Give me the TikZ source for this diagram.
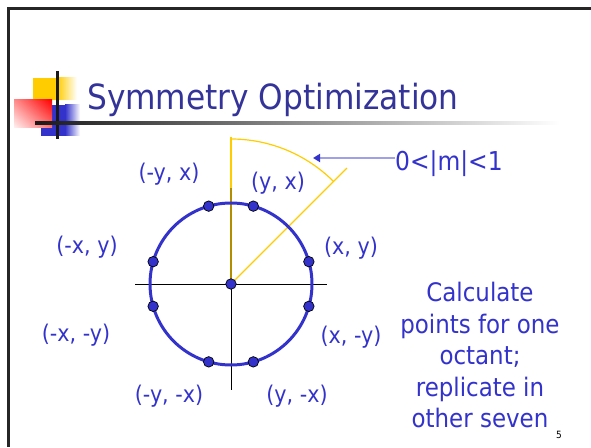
\documentclass[tikz,border=0pt]{standalone}
\usepackage{fontspec}
\setmainfont{DejaVu Sans Condensed}
\usepackage{tikz}
\usetikzlibrary{arrows.meta, positioning, shadings}
\definecolor{ptblue}{RGB}{51,51,204}
\definecolor{pttitle}{RGB}{51,51,153}
\definecolor{ptyellow}{RGB}{255,204,0}
\definecolor{ptgold}{RGB}{180,140,0}
\definecolor{ptarrow}{RGB}{160,160,230}

\begin{document}
\begin{tikzpicture}[x=1pt, y=1pt,
    lbl/.style={text=ptblue, font=\fontsize{23}{27}\selectfont, inner sep=0pt},
    dot/.style={circle, draw=black, line width=0.7pt, fill=ptblue,
                inner sep=0pt, minimum size=10.5pt},
    guide/.style={ptyellow, line width=1.2pt},
]
    \useasboundingbox (0,0) rectangle (591,447);

    % Slide frame
    \draw[line width=3pt, black!85] (591,438.5) -- (8.5,438.5) -- (8.5,0);

    % Title logo
    \fill[ptyellow] (33,347) rectangle (57,369);
    \shade[left color=ptyellow, right color=white] (57,347) rectangle (77,369);
    \fill[ptblue] (41,311) rectangle (65,342);
    \shade[left color=ptblue, right color=white] (65,311) rectangle (80,342);
    \shade[upper right=red, upper left=red!45, lower right=red!55, lower left=red!5]
        (14,319) rectangle (52,347);
    \draw[line width=3pt, black!90] (57,376) -- (57,308);
    \shade[left color=black!90, right color=white] (35,322.5) rectangle (560,325.5);

    \node[anchor=base west, text=pttitle, inner sep=0pt,
          font=\fontsize{34.7}{40}\selectfont] (title) at (87,337) {Symmetry Optimization};

    % Axes and octant guide
    \coordinate (c) at (231,163);
    \draw[line width=0.8pt] (231,259) -- (231,57);
    \draw[line width=0.8pt] (135,163) -- (327,163);
    \draw[guide] (c) -- ([shift={(90:147)}]c);
    \draw[ptgold, line width=1.2pt] (c) -- (231,259);
    \draw[guide] (c) -- ([shift={(45:164)}]c);
    \draw[guide] ([shift={(90:145)}]c) arc[start angle=90, end angle=45, radius=145];

    % Circle and its eight symmetric points
    \draw[ptblue, line width=3pt] (c) circle[radius=81];
    \node[dot] (p1) at ([shift={(16:81)}]c) {};
    \node[dot] (p2) at ([shift={(74:81)}]c) {};
    \node[dot] (p3) at ([shift={(106:81)}]c) {};
    \node[dot] (p4) at ([shift={(164:81)}]c) {};
    \node[dot] (p5) at ([shift={(196:81)}]c) {};
    \node[dot] (p6) at ([shift={(254:81)}]c) {};
    \node[dot] (p7) at ([shift={(286:81)}]c) {};
    \node[dot] (p8) at ([shift={(344:81)}]c) {};
    \node[dot] (p0) at (c) {};

    % Point labels
    \node[lbl] (l1) at (351,199) {(x, y)};
    \node[lbl] (l2) at (278,264) {(y, x)};
    \node[lbl] (l3) at (169,273) {(-y, x)};
    \node[lbl] (l4) at (87,200) {(-x, y)};
    \node[lbl] (l5) at (76,112) {(-x, -y)};
    \node[lbl] (l6) at (169,51) {(-y, -x)};
    \node[lbl] (l7) at (297,51) {(y, -x)};
    \node[lbl] (l8) at (351,110) {(x, -y)};

    % Slope range
    \coordinate (tip) at (313,289);
    \node[lbl, anchor=west, font=\fontsize{26}{30}\selectfont] (slope) at (395,283) {0<|m|<1};
    \draw[ptarrow, line width=2pt, -{Triangle[length=7pt, width=8pt, color=ptblue]}]
        ([yshift=6pt]slope.west) -- (tip);

    % Note
    \node[lbl, align=center, font=\fontsize{25.5}{31.5}\selectfont] (note) at (480,92)
        {Calculate\\points for one\\octant;\\replicate in\\other seven};
    \node[font=\fontsize{10}{12}\selectfont, inner sep=0pt] (pgnum) at (559,12) {5};
\end{tikzpicture}
\end{document}
